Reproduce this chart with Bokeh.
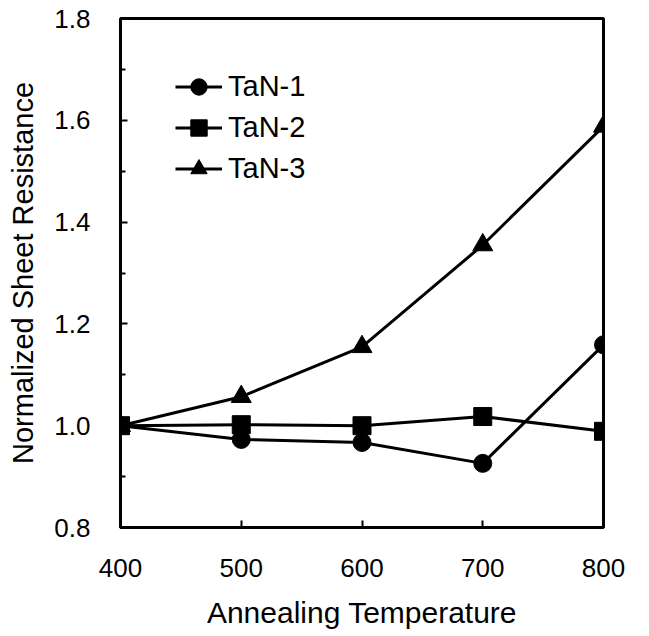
from bokeh.plotting import figure
from bokeh.models import FixedTicker, NumeralTickFormatter, Range1d, Legend, LegendItem
from bokeh.embed import file_html
from bokeh.resources import INLINE

temps = [400, 500, 600, 700, 800]
tan1 = [1.0, 0.973, 0.967, 0.926, 1.159]
tan2 = [1.0, 1.002, 1.0, 1.018, 0.989]
tan3 = [1.0, 1.057, 1.155, 1.355, 1.588]
y_ticks = [0.8, 1.0, 1.2, 1.4, 1.6, 1.8]
y_minor = [0.9, 1.1, 1.3, 1.5, 1.7]
x_ticks = [400, 500, 600, 700, 800]

FONT = "Liberation Sans"

p = figure(width=649, height=636, output_backend="svg", toolbar_location=None,
           x_range=Range1d(400, 800), y_range=Range1d(0.8, 1.8))
p.min_border_left = 120
p.min_border_right = 46
p.min_border_top = 18
p.min_border_bottom = 109
p.grid.visible = False
p.outline_line_color = "black"
p.outline_line_width = 3
p.background_fill_color = "white"
p.border_fill_color = "white"

xa = p.xaxis[0]
xa.ticker = FixedTicker(ticks=x_ticks)
xa.axis_label = "Annealing Temperature"
xa.major_tick_in = 7
xa.major_tick_out = 0
xa.minor_tick_line_color = None
xa.major_label_standoff = 31
xa.axis_label_standoff = 16

ya = p.yaxis[0]
ya.ticker = FixedTicker(ticks=y_ticks, minor_ticks=y_minor)
ya.formatter = NumeralTickFormatter(format="0.0")
ya.axis_label = "Normalized Sheet Resistance"
ya.major_tick_in = 7
ya.major_tick_out = 0
ya.minor_tick_in = 5
ya.minor_tick_out = 0
ya.major_label_standoff = 30
ya.axis_label_standoff = 12

for ax in (xa, ya):
    ax.axis_line_width = 3
    ax.axis_line_color = "black"
    ax.major_tick_line_width = 2
    ax.minor_tick_line_width = 2
    ax.major_label_text_font = FONT
    ax.major_label_text_font_size = "26px"
    ax.major_label_text_color = "black"
    ax.axis_label_text_font = FONT
    ax.axis_label_text_font_style = "normal"
    ax.axis_label_text_color = "black"
xa.axis_label_text_font_size = "30px"
ya.axis_label_text_font_size = "29px"

series = [("TaN-1", tan1, "circle", 18),
          ("TaN-2", tan2, "square", 18),
          ("TaN-3", tan3, "triangle", 20)]
items = []
for name, ys, marker, sz in series:
    l = p.line(temps, ys, line_color="black", line_width=3)
    s = p.scatter(temps, ys, marker=marker, size=sz, fill_color="black", line_color="black")
    items.append(LegendItem(label=name, renderers=[l, s]))

leg = Legend(items=items, location=(55, 338), orientation="vertical")
leg.border_line_color = None
leg.background_fill_alpha = 0
leg.padding = 0
leg.margin = 0
leg.spacing = 0
leg.glyph_width = 47
leg.glyph_height = 41
leg.label_height = 41
leg.label_standoff = 6
leg.label_text_font = FONT
leg.label_text_font_size = "29px"
leg.label_text_color = "black"
p.add_layout(leg)

open("out.html", "w").write(file_html(p, INLINE))
